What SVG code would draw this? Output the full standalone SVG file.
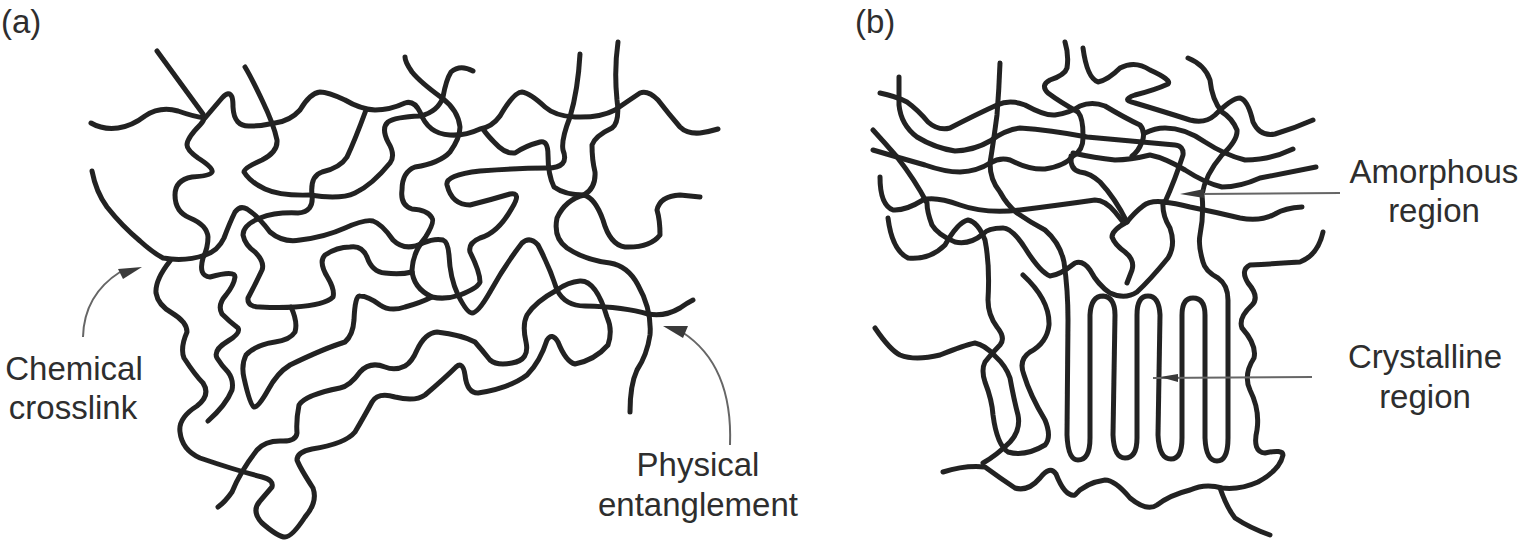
<svg xmlns="http://www.w3.org/2000/svg" width="1521" height="542" viewBox="0 0 1521 542">
<defs><filter id="soft" x="0" y="0" width="1521" height="542" filterUnits="userSpaceOnUse"><feGaussianBlur stdDeviation="0.6"/></filter></defs>
<style>
.s{fill:none;stroke:#222;stroke-width:5;stroke-linecap:round;stroke-linejoin:round;filter:url(#soft)}
.a{fill:none;stroke:#666;stroke-width:2}
.h{fill:#3a3a3a;stroke:none}
text{font-family:"Liberation Sans",Arial,sans-serif;font-size:33px;fill:#2e2e2e}
.m{text-anchor:middle}
</style>
<rect width="1521" height="542" fill="#fff"/>
<g id="panel-a">
<text x="1" y="33">(a)</text>
<path class="s" d="M91 123 Q103 130 118 128 Q132 126 145 116 Q160 106 178 111 Q195 117 205 118 L222 98 Q229 90 232 97 Q233 100 233 107 Q234 127 250 126 Q262 126 275 123 Q290 121 300 110 Q310 93 320 92 Q328 92 345 100 Q360 109 375 110 Q390 110 405 103 Q414 100 420 112 Q428 134 450 135 Q465 136 480 129 Q492 127 500 116 Q514 92 522 92 Q530 93 545 107 Q555 116 575 117 Q600 118 615 110 Q628 101 640 93 Q648 90 658 100 Q668 113 680 127 Q687 134 700 133 Q708 132 718 129"/>
<path class="s" d="M157 51 L203 114 Q206 119 200 125 Q187 138 187 145 Q187 150 198 158 Q214 168 212 172 Q210 176 192 177 Q175 180 175 195 Q175 212 190 218 Q207 225 208 237 Q208 248 203 258 Q198 276 210 277 Q235 270 235 277 Q234 285 226 295 Q217 305 222 314 Q230 322 238 328 Q241 333 228 341 Q213 350 217 358 Q222 366 228 372 Q234 380 232 390 Q226 405 208 421"/>
<path class="s" d="M92 171 Q96 192 107 207 Q122 226 140 241 Q152 252 163 258 Q185 262 205 255 Q218 251 224 238 Q230 222 235 212 Q240 205 247 209 Q258 216 270 232 Q283 243 300 240 Q325 237 345 228 Q365 219 373 221 Q382 224 393 240 Q405 252 423 243 Q435 238 443 240 Q448 242 449 255 Q450 278 458 295 Q467 313 472 313 Q478 313 490 292 Q505 265 522 243 Q530 236 538 245 Q550 268 557 290 Q565 306 585 306 Q625 307 648 314 Q665 317 680 308 Q687 303 693 300"/>
<path class="s" d="M170 261 Q155 280 156 293 Q158 305 172 313 Q187 322 187 332 Q180 348 184 358 Q195 375 203 383 Q211 395 197 406 Q178 418 180 432 Q182 450 200 458 Q235 470 262 477 Q274 480 272 487 Q266 494 260 501 Q251 511 262 523 Q278 537 285 537 Q292 537 305 517 Q318 502 313 488 Q300 468 297 460 Q297 452 312 449 Q345 444 355 432 Q365 415 372 402 Q378 392 395 397 Q415 402 425 395 Q445 378 456 367 Q463 361 465 375 Q467 393 478 393 Q510 388 527 375 Q540 362 547 340 Q552 332 558 342 Q566 362 575 364 Q595 360 608 345 Q613 330 607 317 Q596 280 580 281 Q568 282 557 290 Q535 302 527 315 Q522 325 526 342 Q530 360 512 363 Q497 366 490 360 Q482 350 475 342 Q462 335 437 332 Q425 333 417 350 Q412 362 405 366 Q395 371 385 367 Q370 361 360 372 Q350 386 340 388 Q305 395 299 405 Q296 420 297 433 Q296 442 280 441 Q265 441 257 450 Q240 472 232 492 Q225 502 218 507"/>
<path class="s" d="M580 54 Q578 90 570 117 Q561 140 563 150 Q570 168 547 168 Q520 168 480 171 Q445 175 447 185 Q452 205 470 205 Q490 200 510 194 Q522 192 512 208 Q498 233 480 238 Q468 243 470 252 Q480 272 480 282 Q478 288 460 295 Q445 300 432 297 Q413 288 412 270 Q413 252 425 238 Q435 222 432 218 Q428 210 412 209 Q400 205 402 190 Q402 172 415 167 Q440 163 450 152 Q460 138 460 127 Q458 110 442 98 Q420 82 412 72 Q405 62 405 57"/>
<path class="s" d="M473 71 Q460 64 451 72 Q446 80 443 97 Q438 112 420 116 Q395 117 388 122 Q381 128 388 142 Q396 155 390 163 Q372 185 355 193 Q340 200 310 195 Q280 196 265 189 Q250 182 244 172 Q244 168 262 160 Q278 152 277 140 Q274 125 262 100 Q250 75 245 67"/>
<path class="s" d="M366 110 Q355 140 347 157 Q340 168 322 172 Q310 176 312 195 Q314 212 298 213 Q275 212 260 218 Q243 225 243 235 Q245 245 255 252 Q265 262 262 270 Q255 285 248 298 Q247 307 260 307 Q280 308 295 307 Q325 305 333 297 Q335 290 328 278 Q318 262 325 255 Q337 247 350 247 Q362 245 367 257 Q372 272 385 273 Q400 275 412 272"/>
<path class="s" d="M291 307 Q298 322 295 332 Q290 340 275 342 Q255 345 246 355 Q241 365 244 378 Q250 405 254 407 Q258 408 268 390 Q277 373 290 365 Q325 348 345 342 Q353 335 354 320 Q355 295 360 296 Q368 296 380 305 Q390 312 405 307 Q420 303 432 297"/>
<path class="s" d="M618 42 Q614 70 617 100 Q620 122 612 128 Q595 136 592 145 Q592 160 595 172 Q596 188 584 195 Q565 195 554 187 Q548 175 548 155 Q548 140 540 142 Q525 146 515 153 Q505 154 495 143 Q487 135 483 129"/>
<path class="s" d="M584 195 Q565 200 557 218 Q553 238 567 248 Q585 260 610 263 Q628 266 638 285 Q652 310 650 335 Q647 355 637 370 Q630 385 630 412"/>
<path class="s" d="M584 195 Q595 198 603 220 Q610 245 625 247 Q650 248 660 235 Q660 220 657 210 Q660 196 680 195 L700 197"/>
<path class="a" d="M83 337 Q84 295 120 272"/>
<path class="h" d="M142 267 L118 269 L123 279 Z"/>
<path class="a" d="M730 445 Q733 365 682 332"/>
<path class="h" d="M663 326 L688 326 L683 338 Z"/>
<text class="m" x="74" y="380">Chemical</text>
<text class="m" x="73" y="419">crosslink</text>
<text class="m" x="698" y="476">Physical</text>
<text class="m" x="698" y="516">entanglement</text>
</g>
<g id="panel-b">
<text x="855" y="33">(b)</text>
<path class="s" d="M880 93 Q895 96 907 102 Q918 110 928 122 Q938 131 950 128 Q975 115 997 105 Q1010 99 1025 105 Q1045 116 1055 115 Q1070 113 1080 106 Q1092 101 1105 106 Q1125 118 1140 125 Q1146 132 1142 142 Q1138 152 1132 156"/>
<path class="s" d="M899 77 L899 105 Q901 125 917 137 Q935 148 955 151 Q975 150 990 141 Q1005 130 1020 128 Q1050 130 1087 137 Q1130 141 1175 145 Q1184 146 1183 155 Q1175 180 1165 202 Q1150 200 1143 206 Q1135 212 1127 222 Q1112 230 1112 237 Q1115 245 1125 252 Q1135 260 1132 270 L1127 283"/>
<path class="s" d="M1302 207 Q1285 208 1275 214 Q1260 222 1240 218 Q1215 212 1190 207 Q1175 203 1163 202 Q1162 215 1170 228 Q1176 245 1168 258 Q1150 280 1137 292 Q1125 300 1110 293 Q1098 285 1090 270 Q1083 260 1075 263 Q1060 275 1050 276 Q1040 272 1025 248 Q1012 228 1003 228 Q988 228 983 234 Q970 245 955 242 Q938 235 932 225 Q927 212 927 203 Q915 180 897 157 Q885 143 873 130"/>
<path class="s" d="M873 150 Q900 158 925 165 Q945 172 960 172 Q978 171 990 163 Q1000 157 1010 160 Q1030 170 1045 169 Q1065 166 1073 156 Q1084 150 1083 135 Q1083 118 1078 112 Q1060 102 1048 93 Q1040 85 1050 80 Q1065 75 1067 68 Q1069 55 1065 42"/>
<path class="s" d="M1073 153 Q1095 158 1115 160 Q1130 160 1150 155 Q1165 158 1185 170 Q1205 183 1222 187 Q1240 187 1260 178 Q1290 172 1316 167"/>
<path class="s" d="M1127 222 Q1115 198 1100 182 Q1090 173 1080 172 Q1070 170 1071 156"/>
<path class="s" d="M880 177 Q880 205 893 210 Q905 211 923 200 Q935 196 960 205 Q985 214 1020 210 Q1060 205 1095 200 Q1105 200 1115 212 L1123 222"/>
<path class="s" d="M1000 63 Q999 90 997 115 Q993 145 990 163 Q990 180 1000 192 Q1007 205 1017 213 Q1030 222 1045 230 Q1060 243 1064 262 Q1068 290 1068 320 L1067 435 Q1068 460 1078 460 Q1090 460 1090 438 L1090 315 Q1091 296 1103 296 Q1115 297 1115 315 L1113 435 Q1114 458 1125 458 Q1137 458 1137 438 L1137 315 Q1137 296 1148 296 Q1159 296 1160 315 L1158 435 Q1159 459 1171 459 Q1182 459 1182 438 L1182 315 Q1182 298 1193 298 Q1205 298 1205 315 L1205 438 Q1206 461 1217 461 Q1228 461 1228 438 L1228 300 Q1228 285 1218 278 Q1205 271 1203 262 Q1198 245 1200 235 Q1204 215 1202 195 Q1205 175 1222 155 Q1238 140 1237 130 Q1232 118 1222 112 Q1212 100 1210 80 Q1205 65 1188 58"/>
<path class="s" d="M1083 48 Q1087 78 1098 82 Q1108 80 1120 68 Q1135 60 1150 70 Q1172 80 1168 84 Q1155 90 1135 95 Q1120 100 1135 103 Q1165 112 1190 120 Q1205 124 1215 115 Q1232 98 1240 98 Q1248 100 1253 122 Q1260 137 1275 134 Q1295 128 1313 120"/>
<path class="s" d="M1293 149 Q1270 160 1245 160 Q1225 155 1205 142 Q1185 128 1165 128 Q1155 128 1145 133"/>
<path class="s" d="M888 218 Q892 250 908 258 Q930 260 945 245 Q958 222 968 220 Q978 222 985 240 Q990 265 988 300 Q988 315 997 327 Q1006 338 1000 345 Q992 353 985 362 Q981 370 985 382 Q992 400 993 415 Q997 445 1008 452 Q1025 457 1045 445 Q1052 437 1045 420 Q1030 395 1024 375 Q1018 360 1030 352 Q1047 343 1049 325 Q1050 300 1023 275"/>
<path class="s" d="M875 328 Q890 350 900 355 Q915 361 940 355 Q965 345 975 343 Q985 345 995 356 Q1006 366 1010 378 Q1014 400 1018 415 Q1021 430 1010 442 Q997 455 983 463"/>
<path class="s" d="M1323 232 Q1318 255 1300 262 Q1270 264 1250 265 Q1240 270 1248 283 Q1260 297 1252 305 Q1238 318 1242 328 Q1257 345 1254 358 Q1243 375 1250 390 Q1260 410 1257 430 Q1252 452 1265 453 Q1283 449 1283 455 Q1280 470 1258 482 Q1240 490 1222 488 Q1205 483 1190 490 Q1170 495 1157 505 Q1147 512 1130 498 Q1115 480 1105 480 Q1085 483 1075 495 Q1065 497 1056 474 Q1050 465 1040 478 Q1028 492 1015 488 Q1000 478 985 467 Q965 465 943 472"/>
<path class="s" d="M1220 488 Q1227 508 1235 518 Q1250 528 1270 535"/>
<path class="a" d="M1200 194 L1340 193"/>
<path class="h" d="M1180 194 L1204 189 L1204 198 Z"/>
<path class="a" d="M1153 378 L1312 377"/>
<path class="h" d="M1160 377 L1178 374 L1178 382 Z"/>
<text class="m" x="1434" y="183">Amorphous</text>
<text class="m" x="1434" y="222">region</text>
<text class="m" x="1425" y="368">Crystalline</text>
<text class="m" x="1425" y="408">region</text>
</g>
</svg>
